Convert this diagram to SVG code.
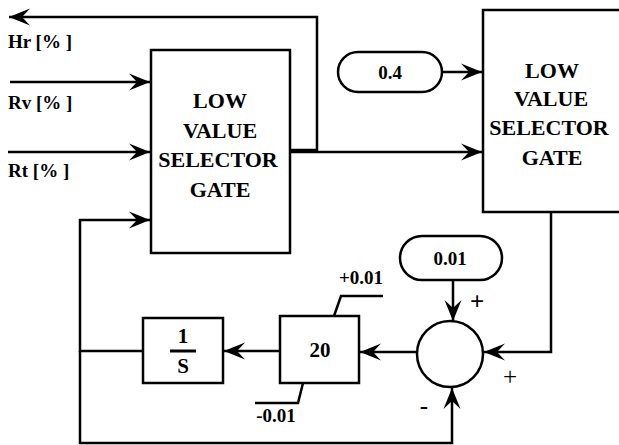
<svg xmlns="http://www.w3.org/2000/svg" width="619" height="445" viewBox="0 0 619 445">
<style>
.ln{fill:none;stroke:#000;stroke-width:2.5}
.bx{fill:#fff;stroke:#000;stroke-width:2.5}
</style>
<defs>
<marker id="ah" markerUnits="userSpaceOnUse" markerWidth="24" markerHeight="20" refX="0" refY="0" viewBox="-22 -10 24 20" orient="auto">
<path d="M0,0 L-21,-8.5 L-13,0 L-21,8.5 Z" fill="#000"/>
</marker>
</defs>
<rect width="619" height="445" fill="#fff"/>
<g id="connectors">
<polyline class="ln" points="290,150 317,150 317,17 9,17" marker-end="url(#ah)"/>
<line class="ln" x1="10" y1="82" x2="150" y2="82" marker-end="url(#ah)"/>
<line class="ln" x1="8" y1="152" x2="150" y2="152" marker-end="url(#ah)"/>
<polyline class="ln" points="143,351 80,351 80,220 150,220" marker-end="url(#ah)"/>
<line class="ln" x1="290" y1="152" x2="482" y2="152" marker-end="url(#ah)"/>
<line class="ln" x1="442" y1="72" x2="482" y2="72" marker-end="url(#ah)"/>
<polyline class="ln" points="551,212 551,352 484,352" marker-end="url(#ah)"/>
<line class="ln" x1="453" y1="280" x2="453" y2="321" marker-end="url(#ah)"/>
<polyline class="ln" points="80,351 80,443 452,443 452,388" marker-end="url(#ah)"/>
<line class="ln" x1="417" y1="352" x2="360" y2="352" marker-end="url(#ah)"/>
<line class="ln" x1="280" y1="351" x2="224" y2="351" marker-end="url(#ah)"/>
<polyline class="ln" points="334,316 341,296 383,296"/>
<polyline class="ln" points="303,383 298,403 255,403"/>
</g>
<g font-family="Liberation Serif, serif" font-weight="bold" fill="#000">
<g id="lvs1" font-size="22">
<rect class="bx" x="151" y="50" width="139" height="203"/>
<text x="220" y="108" text-anchor="middle">LOW</text>
<text x="220" y="138" text-anchor="middle">VALUE</text>
<text x="218" y="167" text-anchor="middle">SELECTOR</text>
<text x="220" y="197" text-anchor="middle">GATE</text>
</g>
<g id="lvs2" font-size="22">
<path class="ln" d="M619,10 H483 V212 H619"/>
<text x="552" y="78" text-anchor="middle">LOW</text>
<text x="551" y="106" text-anchor="middle">VALUE</text>
<text x="549" y="135" text-anchor="middle">SELECTOR</text>
<text x="552" y="165" text-anchor="middle">GATE</text>
</g>
<g id="labels" font-size="19">
<text x="8" y="48">Hr [% ]</text>
<text x="8" y="109">Rv [% ]</text>
<text x="8" y="177">Rt [% ]</text>
</g>
<g id="c04" font-size="19">
<rect class="bx" x="338" y="52" width="104" height="40" rx="20"/>
<text x="390" y="79" text-anchor="middle">0.4</text>
</g>
<g id="c001" font-size="19">
<rect class="bx" x="400" y="236" width="102" height="44" rx="22"/>
<text x="450" y="265" text-anchor="middle">0.01</text>
</g>
<g id="sum" font-size="25">
<circle class="bx" cx="450" cy="354" r="33"/>
<text x="477" y="310" text-anchor="middle">+</text>
<text x="510" y="385" text-anchor="middle" font-weight="normal">+</text>
<text x="424" y="414" text-anchor="middle" font-weight="normal">-</text>
</g>
<g id="gain" font-size="19">
<rect class="bx" x="280" y="316" width="79" height="67"/>
<text x="320" y="357" text-anchor="middle" font-size="21">20</text>
<text x="361" y="284" text-anchor="middle">+0.01</text>
<text x="276" y="422" text-anchor="middle">-0.01</text>
</g>
<g id="integ" font-size="21">
<rect class="bx" x="143" y="318" width="80" height="65"/>
<text x="183" y="343" text-anchor="middle">1</text>
<line x1="170" y1="351" x2="196" y2="351" stroke="#000" stroke-width="3"/>
<text x="183" y="373" text-anchor="middle">S</text>
</g>
</g>
</svg>
